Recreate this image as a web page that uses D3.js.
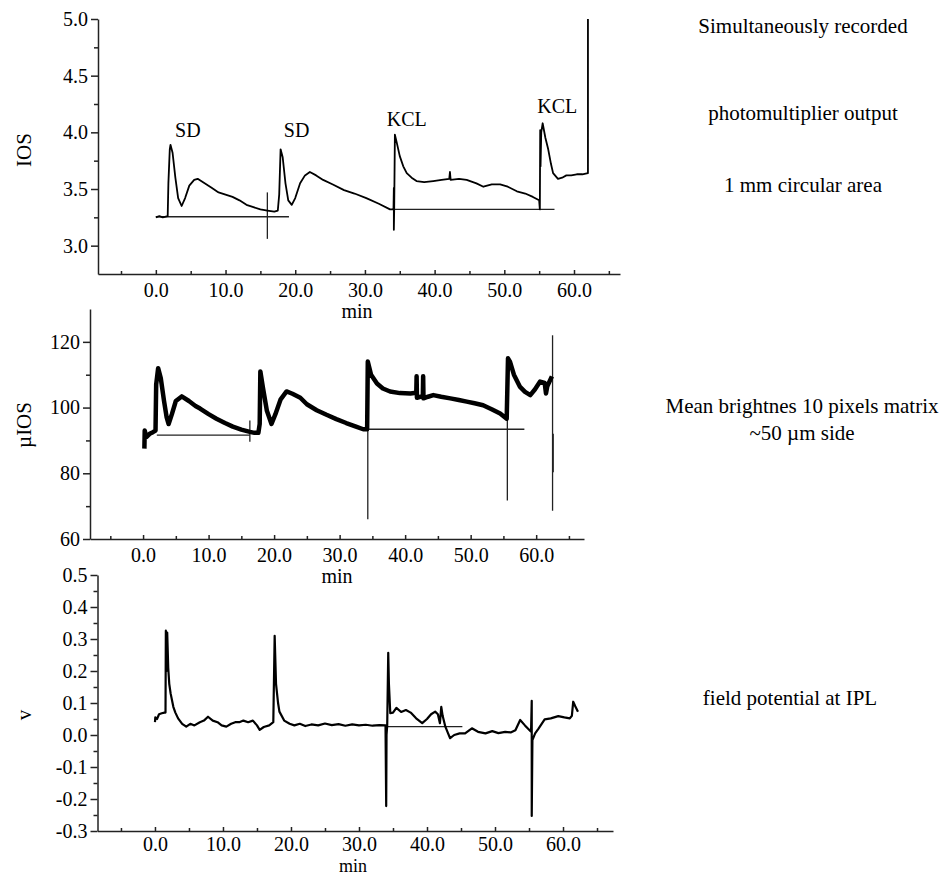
<!DOCTYPE html>
<html>
<head>
<meta charset="utf-8">
<script src="https://cdnjs.cloudflare.com/ajax/libs/d3/7.8.5/d3.min.js"></script>
<style>
    body { margin: 0; background: #fff; }
    text { font-family: "Liberation Serif", "Times New Roman", serif; fill: #000; }
    .axis path, .axis line { stroke: #222; stroke-width: 1.5px; }
    .trace { fill: none; stroke: #000; stroke-linejoin: round; }
    .base { fill: none; stroke: #222; stroke-width: 1.3px; }
</style>
</head>
<body>
<script>
// ---- data: [minutes, value] ----
var iosTrace = [
    [0, 3.25], [0.5, 3.26], [1.0, 3.25], [1.7, 3.26], [1.8, 3.55], [2.0, 3.85], [2.1, 3.89], [2.4, 3.82],
    [2.8, 3.6], [3.2, 3.42], [3.7, 3.35], [4.2, 3.42], [4.8, 3.53], [5.5, 3.58], [6.0, 3.59], [7.0, 3.55],
    [8.0, 3.51], [9.0, 3.47], [10.0, 3.45], [11.0, 3.43], [12.0, 3.40], [13.0, 3.36], [14.0, 3.34],
    [15.0, 3.32], [16.0, 3.31], [17.0, 3.30], [17.5, 3.31], [17.7, 3.45], [17.9, 3.85], [18.2, 3.78],
    [18.6, 3.55], [19.0, 3.40], [19.5, 3.36], [20.0, 3.42], [20.7, 3.55], [21.4, 3.62], [22.1, 3.65],
    [23.0, 3.62], [24.0, 3.58], [25.4, 3.54], [27.0, 3.49], [28.5, 3.46], [30.2, 3.42], [32.0, 3.37],
    [33.6, 3.32], [34.1, 3.32], [34.15, 3.51], [34.15, 3.14], [34.2, 3.32], [34.3, 3.98], [34.6, 3.9],
    [35.0, 3.79], [35.5, 3.70], [36.0, 3.64], [36.7, 3.60], [37.4, 3.57], [38.5, 3.56], [39.8, 3.57],
    [41.0, 3.58], [42.1, 3.59], [42.2, 3.65], [42.3, 3.58], [43.5, 3.59], [44.6, 3.58], [46.0, 3.55],
    [47.0, 3.52], [48.2, 3.54], [49.4, 3.54], [50.5, 3.52], [51.8, 3.48], [53.0, 3.46], [54.1, 3.43],
    [55.0, 3.40], [55.1, 3.32], [55.15, 4.02], [55.2, 3.7], [55.3, 4.0], [55.5, 4.08], [55.9, 3.95],
    [56.3, 3.85], [56.7, 3.72], [57.0, 3.64], [57.7, 3.59], [58.3, 3.60], [58.9, 3.62], [59.6, 3.62],
    [60.4, 3.63], [61.2, 3.63], [62.0, 3.64], [62.0, 5.0]
];
var iosBaselines = [
    [[0, 3.255], [19.1, 3.255]],
    [[33.9, 3.32], [57.2, 3.32]],
    [[16.0, 3.06], [16.0, 3.47]]
];
var iosLabels = [
    {text: 'SD', t: 4.6, v: 3.96},
    {text: 'SD', t: 20.2, v: 3.96},
    {text: 'KCL', t: 36.0, v: 4.06},
    {text: 'KCL', t: 57.6, v: 4.17}
];

var muTrace = [
    [0.2, 87.5], [0.25, 93], [0.5, 91], [1.0, 92], [1.5, 92.5], [1.9, 93], [2.0, 107], [2.3, 112],
    [2.7, 109], [3.2, 102], [3.6, 97], [3.9, 95], [4.4, 98], [5.0, 102], [5.9, 103.4], [7.0, 102],
    [8.0, 100.5], [8.7, 99.7], [10.0, 98], [11.2, 96.6], [12.5, 95.3], [13.7, 94.2], [15.0, 93.3],
    [16.3, 92.6], [17.0, 92.3], [17.6, 92.3], [17.8, 95], [17.9, 111], [18.3, 106], [18.9, 99],
    [19.6, 95], [20.2, 98], [21.0, 102.5], [21.9, 104.9], [22.8, 104.2], [24.0, 103], [25.0, 101],
    [26.5, 99.2], [28.0, 97.8], [29.5, 96.5], [31.0, 95.3], [32.5, 94.2], [33.6, 93.4], [34.2, 93.4],
    [34.3, 114], [34.8, 110], [35.7, 107.3], [36.6, 105.8], [37.7, 104.9], [39.2, 104.4],
    [40.8, 104.3], [41.7, 104.5], [41.75, 109.5], [41.8, 103], [42.7, 103.5], [42.75, 109.5],
    [42.8, 102.8], [43.5, 103.3], [44.3, 103.8], [45.5, 103.3], [46.9, 102.8], [48.2, 102.3],
    [49.4, 101.8], [50.6, 101.3], [51.9, 100.7], [53.2, 99.5], [54.5, 98.2], [55.5, 96.6],
    [55.7, 115], [56.0, 114], [56.6, 110], [57.5, 106.4], [58.3, 104.8], [59.1, 103.8],
    [59.8, 105.5], [60.6, 107.9], [61.3, 107.5], [61.5, 104.3], [61.7, 106.5], [62.4, 109.5]
];
var muBaselines = [
    [[2.1, 91.6], [16.3, 91.6]],
    [[34.4, 93.4], [58.2, 93.4]],
    [[16.3, 89.6], [16.3, 96.1]],
    [[34.3, 66], [34.3, 95]],
    [[55.6, 71.7], [55.6, 97]],
    [[62.5, 68.6], [62.5, 122]],
    [[62.6, 80.3], [62.6, 92]]
];

var vTrace = [
    [0, 0.04], [0.05, 0.055], [0.3, 0.05], [0.6, 0.065], [1.0, 0.068], [1.4, 0.07], [1.55, 0.07],
    [1.6, 0.326], [1.7, 0.2], [1.8, 0.32], [1.95, 0.21], [2.1, 0.16], [2.3, 0.13], [2.7, 0.088],
    [3.0, 0.07], [3.4, 0.052], [4.0, 0.035], [4.6, 0.026], [5.2, 0.035], [5.8, 0.03], [6.6, 0.04],
    [7.2, 0.045], [7.8, 0.057], [8.5, 0.045], [9.2, 0.04], [9.8, 0.03], [10.5, 0.026], [11.2, 0.035],
    [11.8, 0.04], [12.4, 0.04], [13.0, 0.045], [13.7, 0.04], [14.4, 0.045], [15.0, 0.03], [15.4, 0.016],
    [16.0, 0.025], [16.8, 0.03], [17.4, 0.04], [17.6, 0.31], [17.8, 0.16], [18.1, 0.1], [18.3, 0.073],
    [19.0, 0.045], [19.8, 0.035], [20.5, 0.03], [21.3, 0.035], [22.1, 0.028], [23.0, 0.033],
    [24.0, 0.03], [25.0, 0.036], [26.0, 0.031], [27.0, 0.034], [28.0, 0.029], [29.0, 0.033],
    [30.0, 0.03], [31.0, 0.032], [32.0, 0.029], [33.0, 0.031], [33.9, 0.03], [34.0, -0.222],
    [34.05, 0.0], [34.15, 0.03], [34.3, 0.257], [34.4, 0.16], [34.6, 0.068], [35.0, 0.07],
    [35.5, 0.085], [36.2, 0.072], [36.9, 0.078], [37.6, 0.07], [38.4, 0.052], [39.3, 0.037],
    [40.0, 0.05], [40.6, 0.065], [41.2, 0.073], [41.6, 0.065], [41.9, 0.037], [42.1, 0.088],
    [42.3, 0.06], [42.7, 0.026], [43.1, 0.005], [43.4, -0.01], [44.0, 0.0], [44.8, 0.005],
    [45.6, 0.005], [46.6, 0.021], [47.5, 0.01], [48.6, 0.005], [49.6, 0.012], [50.5, 0.006],
    [51.5, 0.01], [52.3, 0.008], [53.0, 0.015], [53.7, 0.047], [54.4, 0.03], [55.3, 0.01],
    [55.4, 0.107], [55.4, -0.253], [55.5, -0.016], [55.9, 0.005], [56.4, 0.02], [57.3, 0.049],
    [58.2, 0.052], [59.3, 0.059], [60.2, 0.055], [61.0, 0.052], [61.3, 0.06], [61.5, 0.104],
    [61.8, 0.09], [62.2, 0.073]
];
var vBaselines = [
    [[34.0, 0.026], [45.2, 0.026]]
];

var xMajor = [0, 10, 20, 30, 40, 50, 60],
    xMinor = [-5, 5, 15, 25, 35, 45, 55, 65];

var sideNotes = [
    {text: 'Simultaneously recorded', x: 803, y: 33},
    {text: 'photomultiplier output', x: 803, y: 120},
    {text: '1 mm circular area', x: 803, y: 192},
    {text: 'Mean brightnes 10 pixels matrix', x: 802, y: 413},
    {text: '~50 \u00b5m side', x: 802, y: 440},
    {text: 'field potential at IPL', x: 790, y: 705}
];

var serif = '"Liberation Serif", "Times New Roman", serif',
    svg = d3.select('body').append('svg')
        .attr('width', 941)
        .attr('height', 876),
    hyphen = function(fmt) {
        var f = d3.format(fmt);
        return function(d) { return f(d).replace('\u2212', '-'); };
    };

function panel(opts) {
    var x = d3.scaleLinear().domain(opts.xDomain).range(opts.xRange),
        y = d3.scaleLinear().domain(opts.yDomain).range(opts.yRange),
        g = svg.append('g'),
        line = d3.line()
            .x(function(d) { return x(d[0]); })
            .y(function(d) { return y(d[1]); }),
        axisG = function(tr, axis) {
            // d3.axis sets its own font attrs, so override them after the call
            return g.append('g')
                .attr('class', 'axis')
                .attr('transform', tr)
                .call(axis)
                .attr('font-family', serif)
                .attr('font-size', 20);
        };

    // minor ticks first, then the main axes on top
    axisG('translate(0,' + opts.yRange[0] + ')',
        d3.axisBottom(x).tickValues(xMinor).tickSizeInner(-3).tickSizeOuter(0).tickFormat(''))
        .select('.domain').remove();
    axisG('translate(' + opts.xRange[0] + ',0)',
        d3.axisLeft(y).tickValues(opts.yMinor).tickSize(4).tickFormat(''))
        .select('.domain').remove();

    axisG('translate(0,' + opts.yRange[0] + ')',
        d3.axisBottom(x).tickValues(xMajor).tickSizeInner(-4).tickSizeOuter(0)
            .tickPadding(opts.xPad).tickFormat(hyphen('.1f')));
    axisG('translate(' + opts.xRange[0] + ',0)',
        d3.axisLeft(y).tickValues(opts.yMajor).tickSizeInner(7).tickSizeOuter(0)
            .tickPadding(3).tickFormat(hyphen(opts.yFormat)));

    g.append('text')
        .attr('x', opts.minX)
        .attr('y', opts.yRange[0] + opts.minDy)
        .attr('text-anchor', 'middle')
        .style('font-size', opts.minSize + 'px')
        .text('min');

    g.append('text')
        .attr('transform', 'translate(31,' + opts.labelY + ') rotate(-90)')
        .attr('text-anchor', 'middle')
        .style('font-size', '21px')
        .text(opts.yLabel);

    g.selectAll('.base')
        .data(opts.baselines)
        .enter()
        .append('path')
        .attr('class', 'base')
        .attr('d', line);

    g.append('path')
        .datum(opts.trace)
        .attr('class', 'trace')
        .style('stroke-width', opts.width + 'px')
        .attr('d', line);

    g.selectAll('.mark')
        .data(opts.labels || [])
        .enter()
        .append('text')
        .attr('x', function(d) { return x(d.t); })
        .attr('y', function(d) { return y(d.v); })
        .attr('text-anchor', 'middle')
        .style('font-size', '20px')
        .text(function(d) { return d.text; });
}

panel({
    xDomain: [-8.3, 66.6], xRange: [98, 620],
    yDomain: [2.75, 5.0], yRange: [274, 19],
    yMajor: [3.0, 3.5, 4.0, 4.5, 5.0], yMinor: [3.25, 3.75, 4.25, 4.75], yFormat: '.1f',
    yLabel: 'IOS', labelY: 150, minX: 357, minDy: 44, minSize: 20, xPad: 9,
    trace: iosTrace, baselines: iosBaselines, labels: iosLabels, width: 1.8
});
panel({
    xDomain: [-8.1, 67.3], xRange: [90, 584],
    yDomain: [60, 130], yRange: [539, 309],
    yMajor: [60, 80, 100, 120], yMinor: [70, 90, 110], yFormat: 'd',
    yLabel: '\u00b5IOS', labelY: 425, minX: 337, minDy: 44, minSize: 20, xPad: 9,
    trace: muTrace, baselines: muBaselines, width: 4.5
});
panel({
    xDomain: [-8.45, 67.35], xRange: [97.5, 613],
    yDomain: [-0.3, 0.5], yRange: [831, 575],
    yMajor: d3.range(-3, 6).map(function(i) { return i / 10; }),
    yMinor: d3.range(-5, 10, 2).map(function(i) { return i / 20; }), yFormat: '.1f',
    yLabel: 'v', labelY: 715, minX: 353, minDy: 41, minSize: 18, xPad: 6,
    trace: vTrace, baselines: vBaselines, width: 2.2
});

svg.selectAll('.note')
    .data(sideNotes)
    .enter()
    .append('text')
    .attr('x', function(d) { return d.x; })
    .attr('y', function(d) { return d.y; })
    .attr('text-anchor', 'middle')
    .style('font-size', '21px')
    .text(function(d) { return d.text; });
</script>
</body>
</html>
